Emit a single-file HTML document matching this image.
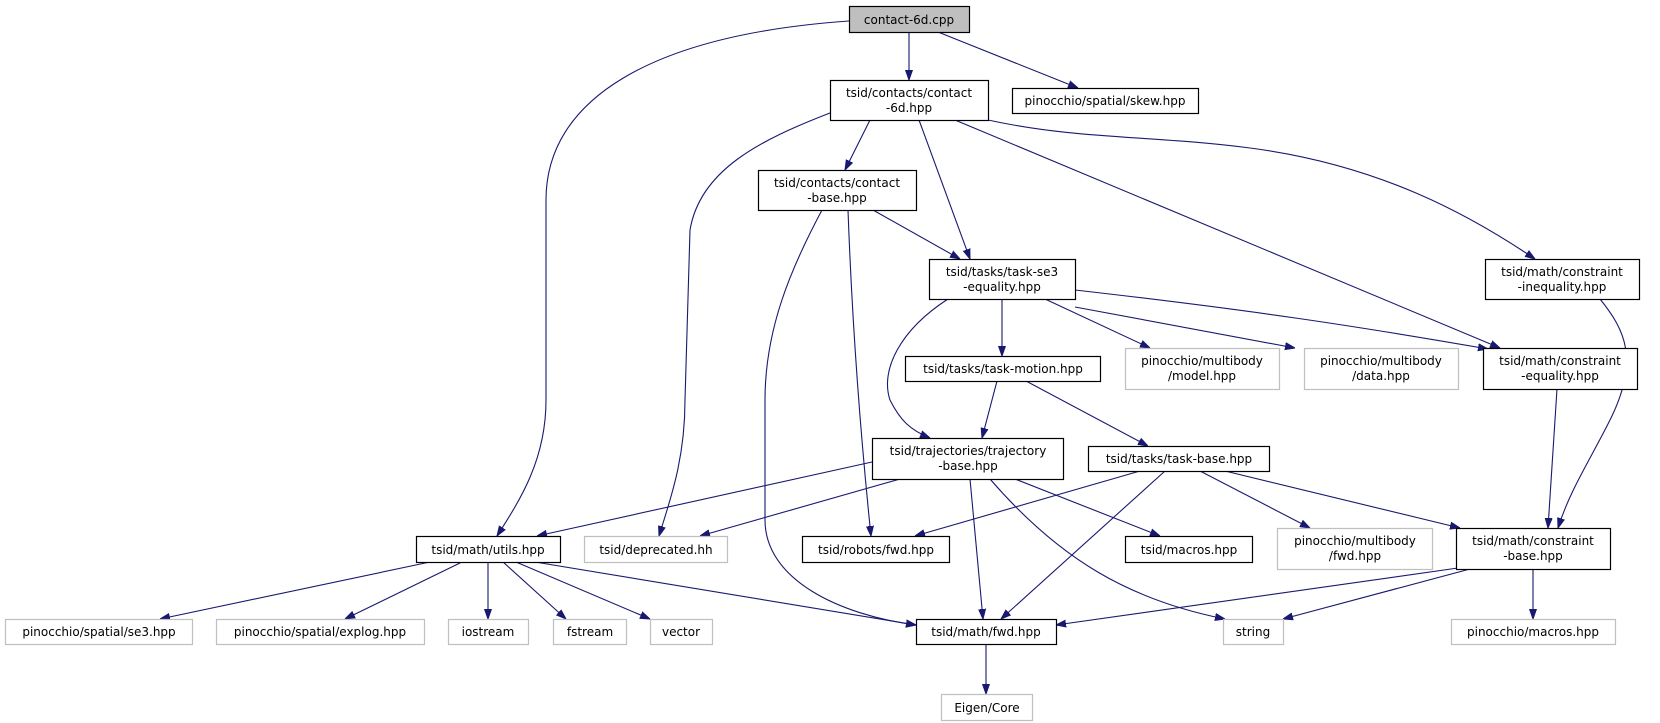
<!DOCTYPE html>
<html><head><meta charset="utf-8"><style>
html,body{margin:0;padding:0;background:#fff;}
svg{display:block;}
text{font-family:"DejaVu Sans","Liberation Sans",sans-serif;font-size:12px;fill:#000;text-anchor:middle;}
.n{fill:#fff;stroke:#000;stroke-width:1.2;}
.g{fill:#fff;stroke:#bfbfbf;stroke-width:1.2;}
.e{fill:none;stroke:#191970;stroke-width:1.1;marker-end:url(#a);}
</style></head><body>
<svg width="1660" height="723" viewBox="0 0 1660 723">
<defs><marker id="a" viewBox="0 0 10 10" refX="10" refY="5" markerWidth="10" markerHeight="10" markerUnits="userSpaceOnUse" orient="auto"><path d="M0,1.5 L10,5 L0,8.5 z" fill="#191970" stroke="#191970"/></marker></defs>

<path class="e" d="M909,32 L909,80"/>
<path class="e" d="M938,32 L1078,88"/>
<path class="e" d="M849,21 C650,35 546,100 546,200 L546,400 C546,460 520,500 497,536"/>
<path class="e" d="M870,120 L845,170"/>
<path class="e" d="M919,120 L970,259"/>
<path class="e" d="M955,120 L1500,348"/>
<path class="e" d="M988,120 C1080,140 1150,135 1250,148 C1380,165 1470,215 1535,259"/>
<path class="e" d="M830,113 C760,140 700,170 690,230 L685,400 C685,460 670,500 659,536"/>
<path class="e" d="M873,210 L960,259"/>
<path class="e" d="M848,210 C852,320 860,430 871,536"/>
<path class="e" d="M822,210 C790,270 765,330 765,400 L765,520 C765,580 840,615 916,625"/>
<path class="e" d="M1002,299 L1002,356"/>
<path class="e" d="M948,299 C900,330 880,370 890,400 C900,420 910,430 930,438"/>
<path class="e" d="M1045,299 L1150,348"/>
<path class="e" d="M1075,307 L1295,348"/>
<path class="e" d="M1075,290 C1250,310 1350,325 1488,349"/>
<path class="e" d="M1600,299 C1625,330 1640,360 1610,420 C1590,460 1570,490 1558,528"/>
<path class="e" d="M1557,389 L1548,528"/>
<path class="e" d="M997,381 L982,438"/>
<path class="e" d="M1026,381 L1148,446"/>
<path class="e" d="M872,462 L537,536"/>
<path class="e" d="M900,479 L700,536"/>
<path class="e" d="M970,479 L983,619"/>
<path class="e" d="M1015,479 L1160,536"/>
<path class="e" d="M990,479 C1060,560 1130,600 1225,619"/>
<path class="e" d="M1140,471 L915,536"/>
<path class="e" d="M1165,471 L1001,619"/>
<path class="e" d="M1200,471 L1310,528"/>
<path class="e" d="M1225,471 L1460,528"/>
<path class="e" d="M1458,568 L1056,625"/>
<path class="e" d="M1470,569 L1283,619"/>
<path class="e" d="M1533,569 L1533,619"/>
<path class="e" d="M986,644 L986,694"/>
<path class="e" d="M430,562 L160,619"/>
<path class="e" d="M462,562 L345,619"/>
<path class="e" d="M488,562 L488,619"/>
<path class="e" d="M503,562 L566,619"/>
<path class="e" d="M516,562 L650,619"/>
<path class="e" d="M535,562 L916,625"/>

<rect x="849.5" y="6.5" width="120" height="26" fill="#bfbfbf" stroke="#000" stroke-width="1.2"/>
<text x="909" y="24">contact-6d.cpp</text>

<rect class="n" x="830.5" y="80.5" width="158" height="40"/>
<text x="909" y="97">tsid/contacts/contact</text><text x="909" y="112">-6d.hpp</text>

<rect class="n" x="1012.5" y="88.5" width="186" height="25"/>
<text x="1105" y="105">pinocchio/spatial/skew.hpp</text>

<rect class="n" x="758.5" y="170.5" width="158" height="40"/>
<text x="837" y="187">tsid/contacts/contact</text><text x="837" y="202">-base.hpp</text>

<rect class="n" x="929.5" y="259.5" width="146" height="40"/>
<text x="1002" y="276">tsid/tasks/task-se3</text><text x="1002" y="291">-equality.hpp</text>

<rect class="n" x="1485.5" y="259.5" width="154" height="40"/>
<text x="1562" y="276">tsid/math/constraint</text><text x="1562" y="291">-inequality.hpp</text>

<rect class="n" x="905.5" y="356.5" width="195" height="25"/>
<text x="1003" y="373">tsid/tasks/task-motion.hpp</text>

<rect class="g" x="1125.5" y="348.5" width="154" height="41"/>
<text x="1202" y="365">pinocchio/multibody</text><text x="1202" y="380">/model.hpp</text>

<rect class="g" x="1304.5" y="348.5" width="154" height="41"/>
<text x="1381" y="365">pinocchio/multibody</text><text x="1381" y="380">/data.hpp</text>

<rect class="n" x="1483.5" y="348.5" width="154" height="41"/>
<text x="1560" y="365">tsid/math/constraint</text><text x="1560" y="380">-equality.hpp</text>

<rect class="n" x="872.5" y="438.5" width="191" height="41"/>
<text x="968" y="455">tsid/trajectories/trajectory</text><text x="968" y="470">-base.hpp</text>

<rect class="n" x="1088.5" y="446.5" width="181" height="25"/>
<text x="1179" y="463">tsid/tasks/task-base.hpp</text>

<rect class="n" x="416.5" y="536.5" width="144" height="26"/>
<text x="488" y="554">tsid/math/utils.hpp</text>

<rect class="g" x="584.5" y="536.5" width="143" height="26"/>
<text x="656" y="554">tsid/deprecated.hh</text>

<rect class="n" x="802.5" y="536.5" width="147" height="26"/>
<text x="876" y="554">tsid/robots/fwd.hpp</text>

<rect class="n" x="1125.5" y="536.5" width="127" height="26"/>
<text x="1189" y="554">tsid/macros.hpp</text>

<rect class="g" x="1277.5" y="528.5" width="155" height="41"/>
<text x="1355" y="545">pinocchio/multibody</text><text x="1355" y="560">/fwd.hpp</text>

<rect class="n" x="1456.5" y="528.5" width="154" height="41"/>
<text x="1533" y="545">tsid/math/constraint</text><text x="1533" y="560">-base.hpp</text>

<rect class="g" x="5.5" y="619.5" width="187" height="25"/>
<text x="99" y="636">pinocchio/spatial/se3.hpp</text>

<rect class="g" x="216.5" y="619.5" width="208" height="25"/>
<text x="320" y="636">pinocchio/spatial/explog.hpp</text>

<rect class="g" x="448.5" y="619.5" width="80" height="25"/>
<text x="488" y="636">iostream</text>

<rect class="g" x="553.5" y="619.5" width="73" height="25"/>
<text x="590" y="636">fstream</text>

<rect class="g" x="650.5" y="619.5" width="62" height="25"/>
<text x="681" y="636">vector</text>

<rect class="n" x="916.5" y="619.5" width="140" height="25"/>
<text x="986" y="636">tsid/math/fwd.hpp</text>

<rect class="g" x="1223.5" y="619.5" width="60" height="25"/>
<text x="1253" y="636">string</text>

<rect class="g" x="1451.5" y="619.5" width="164" height="25"/>
<text x="1533" y="636">pinocchio/macros.hpp</text>

<rect class="g" x="941.5" y="694.5" width="91" height="26"/>
<text x="987" y="712">Eigen/Core</text>
</svg>
</body></html>
